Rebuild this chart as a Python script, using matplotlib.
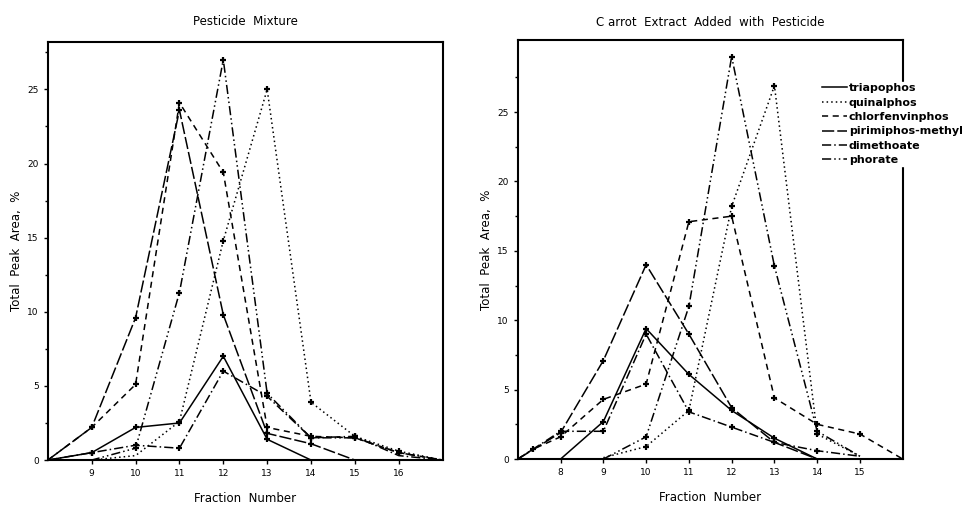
import matplotlib
matplotlib.use("Agg")
from matplotlib import pyplot as plt

names = ["triapophos", "quinalphos", "chlorfenvinphos", "pirimiphos-methyl", "dimethoate", "phorate"]

'''   Pesticide Mixture   '''
mix_x = {
    "triapophos": [8, 9, 10, 11, 12, 13, 14],
    "quinalphos": [9, 10, 11, 12, 13, 14, 15, 16, 17],
    "chlorfenvinphos": [8, 9, 10, 11, 12, 13, 14, 15, 16, 17],
    "pirimiphos-methyl": [8, 9, 10, 11, 12, 13, 14, 15],
    "dimethoate": [8, 9, 10, 11, 12, 13, 14, 15, 16, 17],
    "phorate": [8, 9, 10, 11, 12, 13, 14, 15, 16, 17],
}
mix_y = {
    "triapophos": [0, 0.5, 2.2, 2.5, 7.0, 1.4, 0],
    "quinalphos": [0, 0.3, 2.6, 14.8, 25.0, 3.9, 1.6, 0.6, 0],
    "chlorfenvinphos": [0, 2.2, 5.1, 24.1, 19.4, 2.2, 1.6, 1.5, 0.5, 0],
    "pirimiphos-methyl": [0, 2.2, 9.6, 23.6, 9.8, 1.8, 1.1, 0],
    "dimethoate": [0, 0.5, 1.0, 0.8, 6.0, 4.3, 1.5, 1.6, 0.3, 0],
    "phorate": [0, 0, 0.8, 11.3, 27.0, 4.5, 1.5, 1.5, 0.5, 0],
}

'''   Carrot Extract   '''
car_x = {
    "triapophos": [8, 9, 10, 11, 12, 13, 14],
    "quinalphos": [9, 10, 11, 12, 13, 14, 15],
    "chlorfenvinphos": [7, 7.35, 8, 9, 10, 11, 12, 13, 14, 15, 16],
    "pirimiphos-methyl": [7, 8, 9, 10, 11, 12, 13, 14],
    "dimethoate": [7, 8, 9, 10, 11, 12, 13, 14, 15],
    "phorate": [9, 10, 11, 12, 13, 14, 15],
}
car_y = {
    "triapophos": [0, 2.7, 9.4, 6.1, 3.5, 1.5, 0],
    "quinalphos": [0.1, 0.9, 3.5, 18.2, 26.9, 1.8, 0.2],
    "chlorfenvinphos": [0, 0.7, 1.6, 4.3, 5.4, 17.1, 17.5, 4.4, 2.5, 1.8, 0],
    "pirimiphos-methyl": [0, 1.9, 7.1, 14.0, 9.0, 3.7, 1.2, 0],
    "dimethoate": [0, 2.0, 2.0, 9.0, 3.4, 2.3, 1.2, 0.6, 0.2],
    "phorate": [0, 1.6, 11.0, 29.0, 13.9, 2.0, 0.2],
}

styles = {
    "triapophos": "-",
    "quinalphos": (0, (1, 2)),
    "chlorfenvinphos": (0, (4, 3)),
    "pirimiphos-methyl": (0, (8, 2)),
    "dimethoate": (0, (6, 2, 1, 2)),
    "phorate": (0, (6, 2, 1, 2, 1, 2)),
}

fig = plt.figure(figsize=(9.77, 5.05), dpi=100)
ax1 = fig.add_axes([0.049, 0.089, 0.404, 0.828])
ax2 = fig.add_axes([0.530, 0.091, 0.394, 0.830])


def draw(ax, xs, ys):
    for n in names:
        x = xs[n]
        y = ys[n]
        marks = [v > 0.3 for v in y]
        ax.plot(x, y, color="black", lw=1.1, ls=styles[n], label=n,
                marker="+", ms=5, mew=1.6, markevery=marks)


draw(ax1, mix_x, mix_y)
draw(ax2, car_x, car_y)

ax1.set_xlim(8, 17)
ax1.set_ylim(0, 28.2)
ax1.set_xticks([9, 10, 11, 12, 13, 14, 15, 16])
ax2.set_xlim(7, 16)
ax2.set_ylim(0, 30.2)
ax2.set_xticks([8, 9, 10, 11, 12, 13, 14, 15])

for ax in [ax1, ax2]:
    ax.set_yticks([0, 5, 10, 15, 20, 25])
    ax.set_yticks([2.5, 7.5, 12.5, 17.5, 22.5, 27.5], minor=True)
    ax.tick_params(which="both", direction="out", labelsize=6.5, width=1)
    ax.tick_params(which="major", length=3)
    ax.tick_params(which="minor", length=2)
    for s in ax.spines.values():
        s.set_linewidth(1.5)
    ax.set_xlabel("Fraction  Number", fontsize=8.5, labelpad=10)
    ax.set_ylabel("Total  Peak  Area,  %", fontsize=8.5, labelpad=3)

ax1.set_title("Pesticide  Mixture", fontsize=8.5, pad=12)
ax2.set_title("C arrot  Extract  Added  with  Pesticide", fontsize=8.5, pad=10)

leg = ax2.legend(loc="upper left", bbox_to_anchor=(821 / 977, 1 - 82 / 505),
                 bbox_transform=fig.transFigure,
                 prop={"size": 8, "weight": "bold"}, frameon=True,
                 handlelength=2.2, handletextpad=0.2, labelspacing=0.4,
                 borderpad=0.1, borderaxespad=0, fancybox=False)
leg.get_frame().set_edgecolor("white")
leg.get_frame().set_facecolor("white")
leg.get_frame().set_alpha(1)
for h in leg.get_lines():
    h.set_marker("")

fig.savefig("out.png", dpi=100)
